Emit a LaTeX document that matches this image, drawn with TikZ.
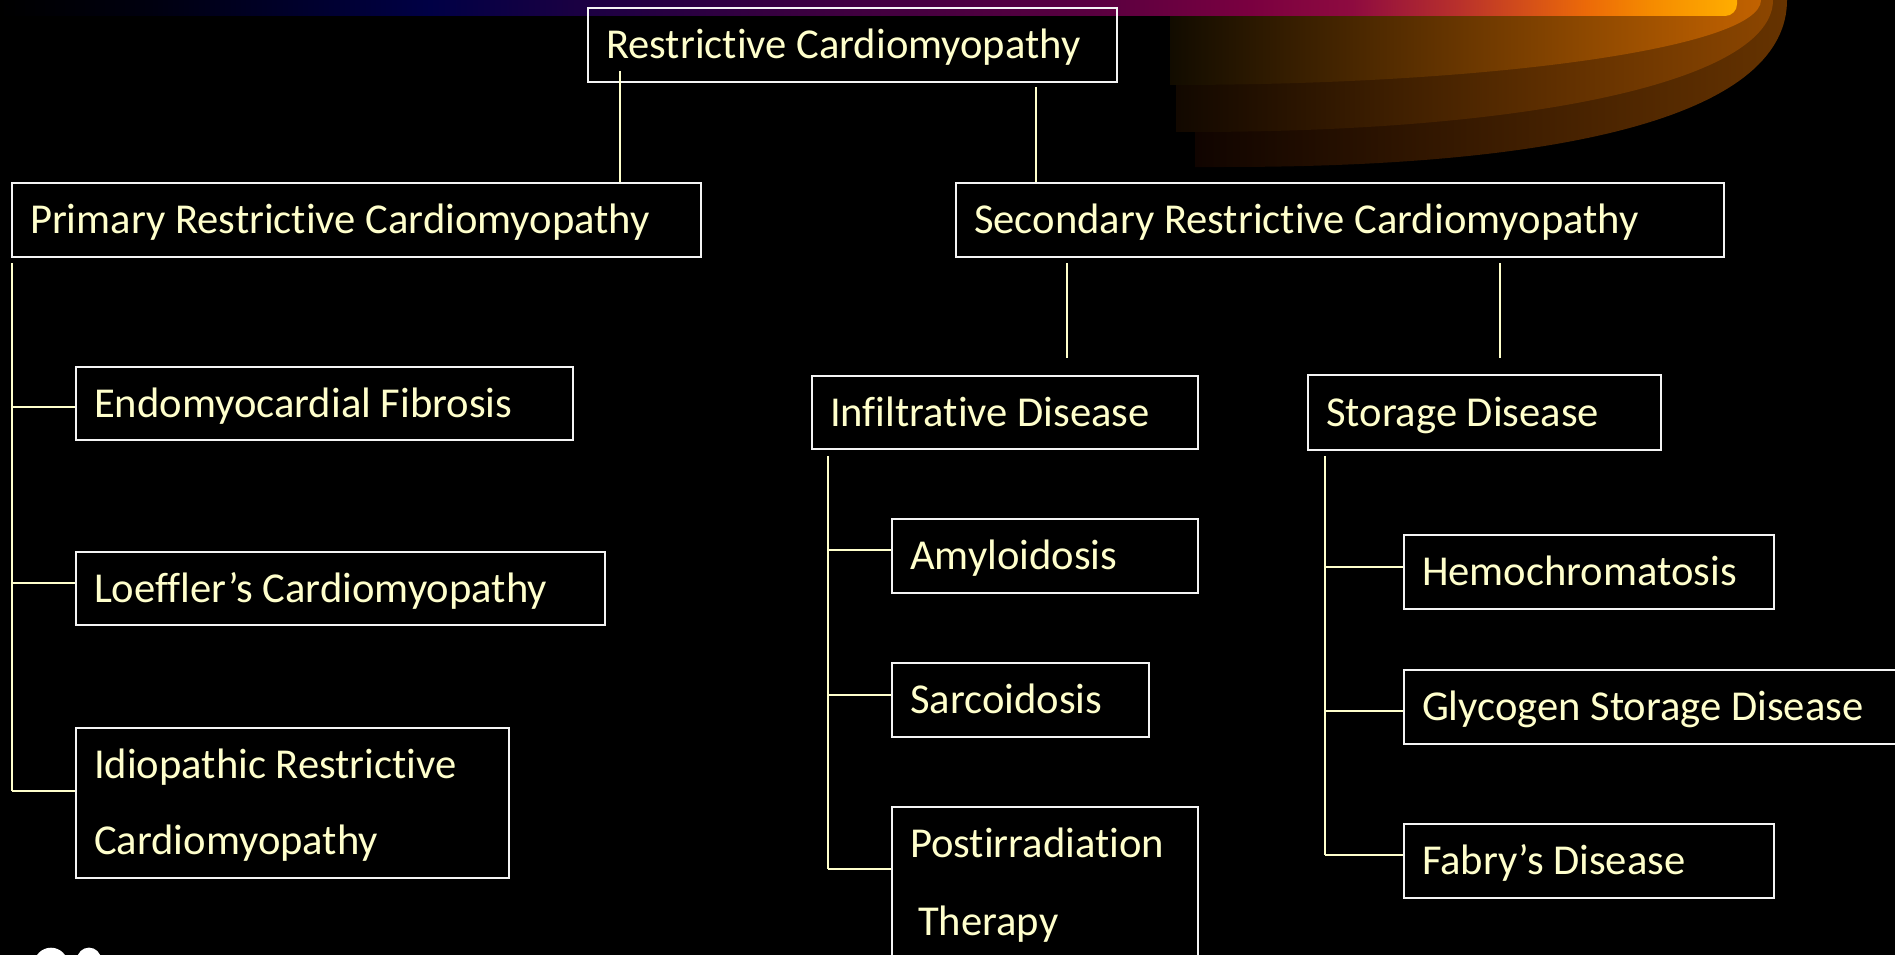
\documentclass[tikz,border=0pt]{standalone}
\usepackage{fontspec}
\setmainfont{Carlito}[Ligatures={NoCommon}]
\usetikzlibrary{calc}
\definecolor{txt}{HTML}{FFFFCC}
\definecolor{lnc}{HTML}{FFFFCC}
\definecolor{boxc}{HTML}{F4F4F4}
\definecolor{bA}{HTML}{000000}
\definecolor{bB}{HTML}{00000F}
\definecolor{bC}{HTML}{000045}
\definecolor{bD}{HTML}{1C0042}
\definecolor{bE}{HTML}{3A0040}
\definecolor{bF}{HTML}{5A0040}
\definecolor{bG}{HTML}{7A0040}
\definecolor{bH}{HTML}{8E0B40}
\definecolor{bI}{HTML}{B8302C}
\definecolor{bJ}{HTML}{EC6A08}
\definecolor{bK}{HTML}{F58A00}
\definecolor{bL}{HTML}{FFAE00}
\definecolor{lOneA}{HTML}{120C00}
\definecolor{lOneM}{HTML}{804000}
\definecolor{lOneB}{HTML}{C26200}
\definecolor{lTwoA}{HTML}{120800}
\definecolor{lTwoM}{HTML}{5A2E00}
\definecolor{lTwoB}{HTML}{8C4600}
\definecolor{lThrA}{HTML}{100400}
\definecolor{lThrM}{HTML}{402000}
\definecolor{lThrB}{HTML}{663300}
\pgfdeclarehorizontalshading{bannershade}{100bp}{color(0bp)=(bA); color(25.4bp)=(bA); color(29.7bp)=(bB); color(37.7bp)=(bC); color(42.2bp)=(bD); color(48.3bp)=(bE); color(56.8bp)=(bF); color(61.1bp)=(bG); color(64bp)=(bH); color(67bp)=(bI); color(70.7bp)=(bJ); color(72.5bp)=(bK); color(75bp)=(bL); color(100bp)=(bL)}
\newcommand\boxtext[2]{\parbox[t]{#1}{\raggedright #2}}
\tikzset{
  box/.style={draw=boxc, line width=2.2pt, text=txt, anchor=north west,
    inner xsep=18pt, inner ysep=0pt, text height=27pt, text depth=0pt,
    font=\fontsize{42.6}{76}\selectfont},
  conn/.style={draw=lnc, line width=2pt}
}
\begin{document}
\begin{tikzpicture}[x=1pt,y=-1pt]
\useasboundingbox (0,0) rectangle (1895,955);
\fill[black] (0,0) rectangle (1895,955);
% swoosh layers
\path[left color=lThrA, middle color=lThrM, right color=lThrB]
  (1195,-5) -- (1195,167) -- (1224,167) .. controls (1590,167) and (1787,108.6) .. (1787,0) -- (1787,-5) -- cycle;
\path[left color=lTwoA, middle color=lTwoM, right color=lTwoB]
  (1176,-5) -- (1176,132) -- (1190,132) .. controls (1540,132) and (1773,79) .. (1773,0) -- (1773,-5) -- cycle;
\path[left color=lOneA, middle color=lOneM, right color=lOneB]
  (1170,-5) -- (1170,85) .. controls (1496,85) and (1761,47) .. (1761,0) -- (1761,-5) -- cycle;
% top banner
\shade[shading=bannershade, rounded corners=12pt] (-15,-15) rectangle (1737,16);
% logo fragment
\fill[white] (51,964.7) circle (17);
\fill[white] (89,959.6) circle (12);
% boxes
\node[box, minimum width=529pt, minimum height=74pt] (top) at (587,7) {\boxtext{493pt}{Restrictive Cardiomyopathy}};
\node[box, minimum width=689pt, minimum height=74pt] (primary) at (11,182) {\boxtext{653pt}{Primary Restrictive Cardiomyopathy}};
\node[box, minimum width=497pt, minimum height=73pt] (endo) at (75,366) {\boxtext{461pt}{Endomyocardial Fibrosis}};
\node[box, minimum width=529pt, minimum height=73pt] (loeff) at (75,551) {\boxtext{493pt}{Loeffler’s Cardiomyopathy}};
\node[box, minimum width=433pt, minimum height=150pt, text depth=76pt] (idio) at (75,727) {\boxtext{397pt}{Idiopathic Restrictive\\Cardiomyopathy}};
\node[box, minimum width=768pt, minimum height=74pt] (secondary) at (955,182) {\boxtext{732pt}{Secondary Restrictive Cardiomyopathy}};
\node[box, minimum width=386pt, minimum height=73pt] (infil) at (811,375) {\boxtext{350pt}{Infiltrative Disease}};
\node[box, minimum width=306pt, minimum height=74pt] (amy) at (891,518) {\boxtext{270pt}{Amyloidosis}};
\node[box, minimum width=257pt, minimum height=74pt] (sarc) at (891,662) {\boxtext{221pt}{Sarcoidosis}};
\node[box, minimum width=306pt, minimum height=160pt, text depth=86pt] (post) at (891,806) {\boxtext{270pt}{Postirradiation\\[2pt]\hspace*{8pt}Therapy}};
\node[box, minimum width=353pt, minimum height=75pt] (storage) at (1307,374) {\boxtext{317pt}{Storage Disease}};
\node[box, minimum width=370pt, minimum height=74pt] (hemo) at (1403,534) {\boxtext{334pt}{Hemochromatosis}};
\node[box, minimum width=520pt, minimum height=74pt] (glyc) at (1403,669) {\boxtext{484pt}{Glycogen Storage Disease}};
\node[box, minimum width=370pt, minimum height=74pt] (fabry) at (1403,823) {\boxtext{334pt}{Fabry’s Disease}};
% connectors from the top box
\coordinate (ta) at (620,71);
\coordinate (tb) at (1036,87);
\draw[conn] (ta) -- (ta |- primary.north);
\draw[conn] (tb) -- (tb |- secondary.north);
% primary trunk
\coordinate (pa) at (12,263);
\coordinate (pe) at (12,407);
\coordinate (pl) at (12,582.5);
\coordinate (pi) at (12,791);
\draw[conn] (pa) -- (pi);
\draw[conn] (pe) -- (pe -| endo.west);
\draw[conn] (pl) -- (pl -| loeff.west);
\draw[conn] (pi) -- (pi -| idio.west);
% secondary stubs
\coordinate (sa) at (1067,263);
\coordinate (sb) at (1067,358);
\coordinate (sc) at (1500,263);
\coordinate (sd) at (1500,358);
\draw[conn] (sa) -- (sb);
\draw[conn] (sc) -- (sd);
% infiltrative trunk
\coordinate (ia) at (828,456);
\coordinate (im) at (828,550);
\coordinate (is) at (828,695);
\coordinate (ip) at (828,869);
\draw[conn] (ia) -- (ip);
\draw[conn] (im) -- (im -| amy.west);
\draw[conn] (is) -- (is -| sarc.west);
\draw[conn] (ip) -- (ip -| post.west);
% storage trunk
\coordinate (ga) at (1325,456);
\coordinate (gh) at (1325,566.7);
\coordinate (gg) at (1325,710.7);
\coordinate (gf) at (1325,854.5);
\draw[conn] (ga) -- (gf);
\draw[conn] (gh) -- (gh -| hemo.west);
\draw[conn] (gg) -- (gg -| glyc.west);
\draw[conn] (gf) -- (gf -| fabry.west);
\end{tikzpicture}
\end{document}
